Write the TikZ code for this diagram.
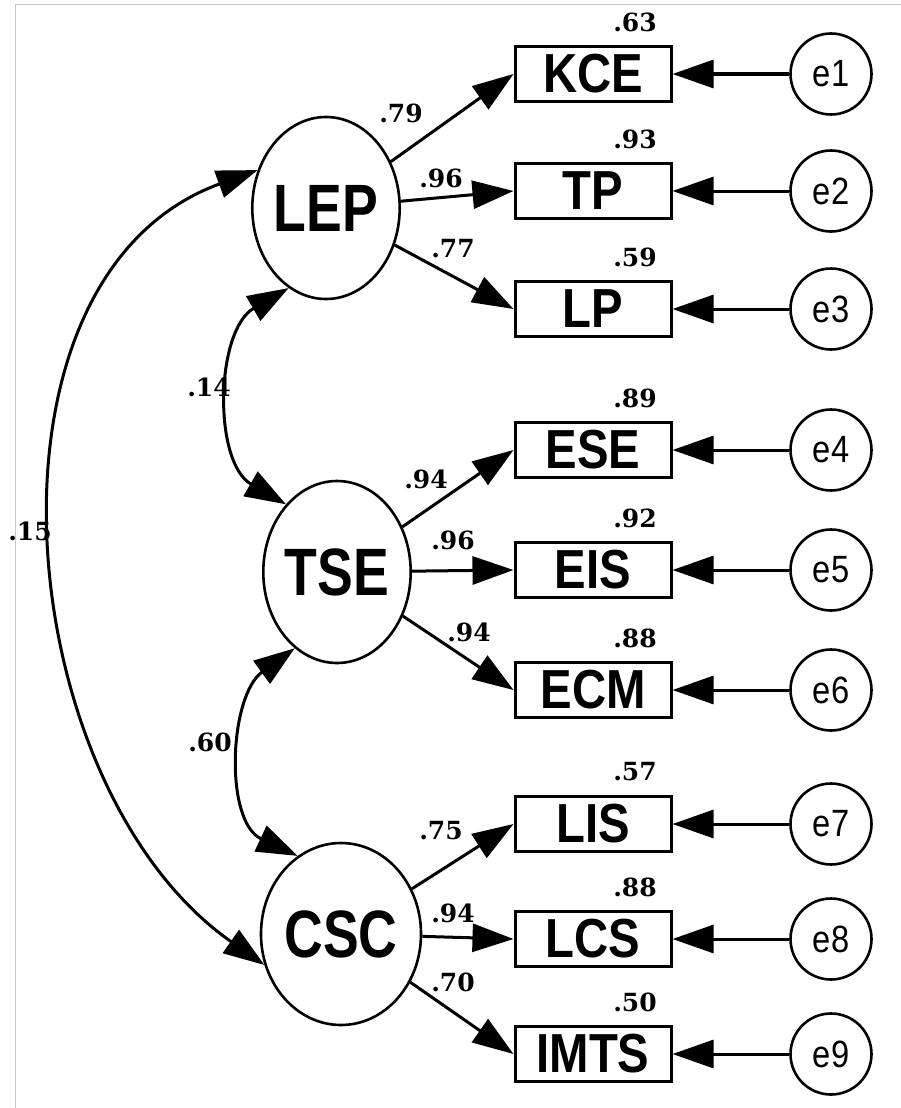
\documentclass[tikz,border=0pt]{standalone}
\usepackage{fontspec}
\usepackage{tikz}
\usetikzlibrary{arrows.meta,positioning,shapes.geometric}

\newfontfamily\latentfont[FakeStretch=0.8]{Liberation Sans}
\newfontfamily\boxfont[FakeStretch=0.86]{Liberation Sans}
\newfontfamily\numfont{DejaVu Serif}

\begin{document}
\begin{tikzpicture}[x=1pt,y=1pt,node distance=238pt,on grid,
    >={Triangle[length=41pt,width=28pt]},line width=3pt,
    latent/.style={draw,ellipse,line width=2.6pt,minimum width=146pt,minimum height=182pt,inner sep=0pt,
        font=\latentfont\bfseries\fontsize{67}{67}\selectfont},
    observed/.style={draw,rectangle,minimum width=156pt,minimum height=55pt,inner sep=0pt,
        font=\boxfont\bfseries\fontsize{55}{55}\selectfont},
    error/.style={draw,circle,line width=2.6pt,minimum size=81pt,inner sep=0pt,
        font=\boxfont\fontsize{38}{38}\selectfont},
    coef/.style={inner sep=0pt,font=\numfont\bfseries\fontsize{25}{25}\selectfont},
    rsq/.style={coef,above right=52pt and 42pt of #1}]
    \useasboundingbox (0,0) rectangle (901,-1108);
    \draw[gray!45,line width=1pt] (15,-1108) -- (15,-5) -- (901,-5);

    % latent factors
    \node[latent] (LEP) at (326,-208) {LEP};
    \node[latent] (TSE) at (337,-572) {TSE};
    \node[latent] (CSC) at (341,-934) {CSC};

    % indicators
    \node[observed] (KCE) at (593,-74) {KCE};
    \node[observed] (TP) at (593,-191) {TP};
    \node[observed] (LP) at (593,-309) {LP};
    \node[observed] (ESE) at (593,-450) {ESE};
    \node[observed] (EIS) at (593,-570) {EIS};
    \node[observed] (ECM) at (593,-690) {ECM};
    \node[observed] (LIS) at (593,-824) {LIS};
    \node[observed] (LCS) at (593,-939) {LCS};
    \node[observed] (IMTS) at (593,-1054) {IMTS};

    % error terms
    \node[error] (e1) [right=of KCE] {e1};
    \node[error] (e2) [right=of TP] {e2};
    \node[error] (e3) [right=of LP] {e3};
    \node[error] (e4) [right=of ESE] {e4};
    \node[error] (e5) [right=of EIS] {e5};
    \node[error] (e6) [right=of ECM] {e6};
    \node[error] (e7) [right=of LIS] {e7};
    \node[error] (e8) [right=of LCS] {e8};
    \node[error] (e9) [right=of IMTS] {e9};

    % squared multiple correlations
    \node[rsq=KCE] (r1) {.63};
    \node[rsq=TP] (r2) {.93};
    \node[rsq=LP] (r3) {.59};
    \node[rsq=ESE] (r4) {.89};
    \node[rsq=EIS] (r5) {.92};
    \node[rsq=ECM] (r6) {.88};
    \node[rsq=LIS] (r7) {.57};
    \node[rsq=LCS] (r8) {.88};
    \node[rsq=IMTS] (r9) {.50};

    % loadings
    \path[->]
        (LEP) edge (KCE.west)
        (LEP) edge (TP.west)
        (LEP) edge (LP.west)
        (TSE) edge (ESE.west)
        (TSE) edge (EIS.west)
        (TSE) edge (ECM.west)
        (CSC) edge (LIS.west)
        (CSC) edge (LCS.west)
        (CSC) edge (IMTS.west);
    \node[coef] (l1) at (401,-113) {.79};
    \node[coef] (l2) at (441,-178) {.96};
    \node[coef] (l3) at (453,-249) {.77};
    \node[coef] (l4) at (426,-479) {.94};
    \node[coef] (l5) at (453,-540) {.96};
    \node[coef] (l6) at (469,-632) {.94};
    \node[coef] (l7) at (441,-831) {.75};
    \node[coef] (l8) at (453,-913) {.94};
    \node[coef] (l9) at (453,-982) {.70};

    % errors to indicators
    \path[->]
        (e1) edge (KCE)
        (e2) edge (TP)
        (e3) edge (LP)
        (e4) edge (ESE)
        (e5) edge (EIS)
        (e6) edge (ECM)
        (e7) edge (LIS)
        (e8) edge (LCS)
        (e9) edge (IMTS);

    % covariances
    \draw[<->] (LEP.245) to[out=210,in=150] (TSE.127);
    \draw[<->] (TSE.241) to[out=216,in=155] (CSC.119);
    \draw[<->] (LEP.151) to[out=200,in=145] (CSC.202);
    \node[coef] (c1) at (209,-387) {.14};
    \node[coef] (c2) at (210,-742) {.60};
    \node[coef] (c3) at (30,-531) {.15};
\end{tikzpicture}
\end{document}
